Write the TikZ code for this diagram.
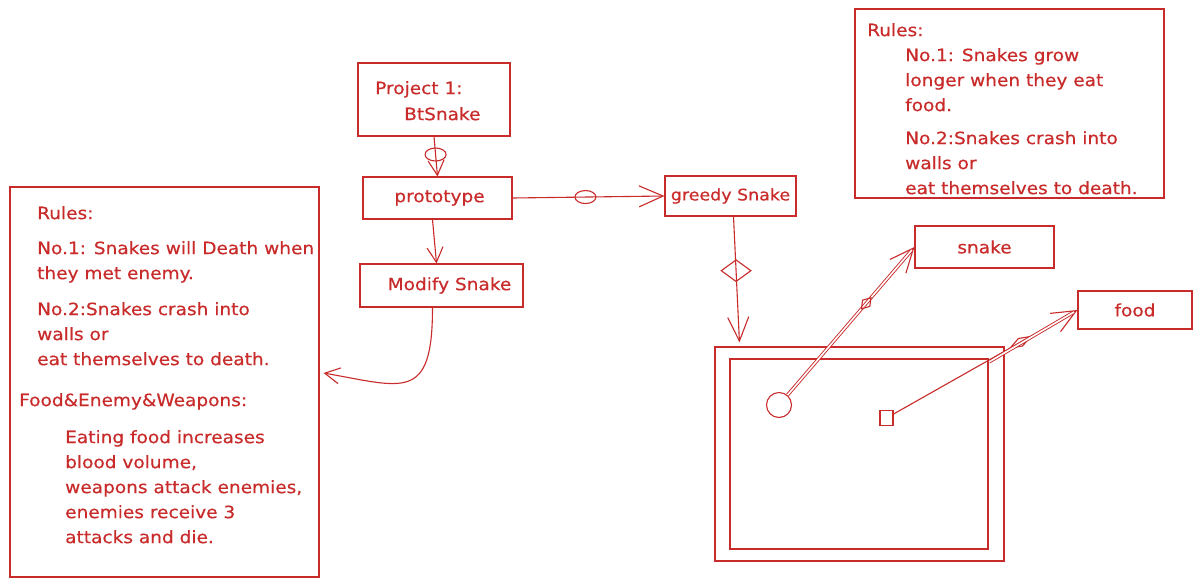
\documentclass[tikz,border=0pt]{standalone}
\usepackage{fontspec}
\setmainfont{DejaVu Sans}[FakeStretch=1.09,FakeBold=0.4]
\usetikzlibrary{arrows.meta,shapes.geometric,calc}
\definecolor{ink}{HTML}{C92A2A}
\begin{document}
\begin{tikzpicture}[x=1pt,y=-1pt,
  every node/.style={text=ink},
  box/.style={draw=ink, line width=1.1pt, rectangle, inner sep=0pt},
  lbl/.style={font=\fontsize{17}{20}\selectfont},
  txt/.style={font=\fontsize{17}{25}\selectfont, align=left, inner sep=0pt, anchor=north west},
  link/.style={draw=ink, line width=1.1pt},
  arr/.style={link, -{Straight Barb[length=15pt,width=16pt]}},
  bigarr/.style={link, -{Straight Barb[length=24pt,width=21pt]}},
  oval/.style={ellipse, draw=ink, line width=1.1pt, minimum width=21pt, minimum height=13pt, inner sep=0pt},
  dmd/.style={diamond, draw=ink, line width=1.1pt, inner sep=0pt},
  dbl/.style={draw=ink, line width=0.9pt, double=white, double distance=1.6pt}
]
\fill[white] (0,0) rectangle (1201,587);
\useasboundingbox (0,0) rectangle (1201,587);

% boxes
\node[box, minimum width=152pt, minimum height=73pt] (proj) at (434,99.5) {};
\node[txt, font=\fontsize{17}{26}\selectfont] (projt) at (375,81) {Project 1:\\\hspace*{29pt}BtSnake};
\node[box, lbl, minimum width=149pt, minimum height=42pt] (proto) at (437.5,198) {\hspace*{4pt}prototype};
\node[box, lbl, minimum width=163pt, minimum height=43pt] (modify) at (441.5,285.5) {\hspace*{16pt}Modify Snake};
\node[box, lbl, font=\fontsize{16}{20}\selectfont, minimum width=131pt, minimum height=40pt] (greedy) at (730.5,196) {greedy Snake};
\node[box, lbl, minimum width=139pt, minimum height=42pt] (snake) at (984.5,247) {snake};
\node[box, lbl, minimum width=114pt, minimum height=38pt] (food) at (1135,310) {food};
\node[box, minimum width=309pt, minimum height=390pt] (rulesL) at (164.5,382) {};
\node[box, minimum width=309pt, minimum height=189pt] (rulesR) at (1009.5,103.5) {};
\node[box, minimum width=289pt, minimum height=214pt] (frame) at (859.5,454) {};
\node[box, minimum width=258pt, minimum height=190pt] (inner) at (859,454) {};
\node[circle, draw=ink, line width=1.1pt, minimum size=25pt, inner sep=0pt] (circ) at (779,405) {};
\node[box, minimum width=13pt, minimum height=15pt] (sq) at (886.5,418) {};

% texts
\node[txt] (rl1) at (37,206) {Rules:\\[10pt]No.1: Snakes will Death when\\they met enemy.\\[11pt]No.2:Snakes crash into\\walls or\\eat themselves to death.};
\node[txt] (rl2) at (19,393) {Food\&Enemy\&Weapons:};
\node[txt] (rl3) at (65,430) {Eating food increases\\blood volume,\\weapons attack enemies,\\enemies receive 3\\attacks and die.};
\node[txt] (rr1) at (867,23) {Rules:};
\node[txt] (rr2) at (905,48) {No.1: Snakes grow\\longer when they eat\\food.\\[8pt]No.2:Snakes crash into\\walls or\\eat themselves to death.};

% connectors
\draw[arr] (proj.south) -- node[oval, pos=0.45] (m1) {} (proto.north);
\draw[arr] ([xshift=-5pt]proto.south) -- ([xshift=-5pt]modify.north);
\draw[bigarr] (proto.east) -- node[oval, pos=0.48] (m2) {} (greedy.west);
\coordinate (fin) at ([xshift=25pt,yshift=4pt]frame.north west);
\draw[bigarr] ([xshift=3pt]greedy.south) -- node[dmd, minimum width=30pt, minimum height=22pt, pos=0.43] (m3) {} (fin);
\coordinate (lt) at ([xshift=4pt,yshift=9pt]rulesL.east);
\draw[arr] ([xshift=-9pt]modify.south) .. controls +(0,95) and +(80,14) .. (lt);
\draw[bigarr] (circ) -- (snake.west);
\draw[dbl, shorten >=4pt] (circ) -- node[dmd, sloped, minimum width=15pt, minimum height=10pt, pos=0.62] (m4) {} (snake.west);
\draw[bigarr] (sq) -- node[dmd, sloped, minimum width=24pt, minimum height=9pt, pos=0.69] (m5) {} (food.west);
\coordinate (fmid) at ($(sq.east)!0.52!(food.west)$);
\draw[dbl, shorten >=4pt] (fmid) -- (food.west);
\end{tikzpicture}
\end{document}
